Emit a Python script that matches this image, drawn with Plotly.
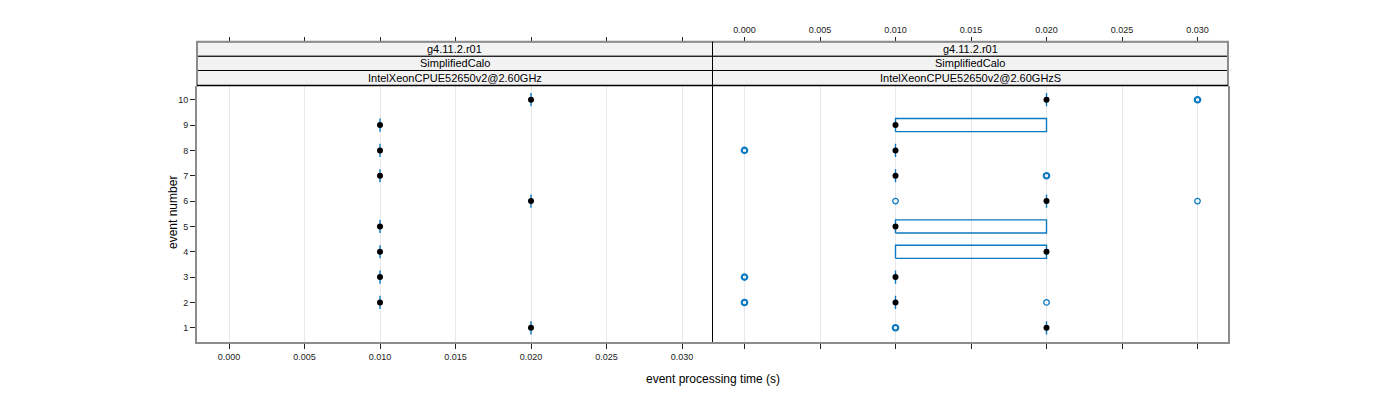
import plotly.graph_objects as go

# event numbers on the y axis
events = [1, 2, 3, 4, 5, 6, 7, 8, 9, 10]
x_ticks = [0.000, 0.005, 0.010, 0.015, 0.020, 0.025, 0.030]
x_tick_text = ["0.000", "0.005", "0.010", "0.015", "0.020", "0.025", "0.030"]

strip_labels_left = ["g4.11.2.r01", "SimplifiedCalo", "IntelXeonCPUE52650v2@2.60GHz"]
strip_labels_right = ["g4.11.2.r01", "SimplifiedCalo", "IntelXeonCPUE52650v2@2.60GHzS"]

# left panel: every event has the same time in all runs
left_q1 = [0.02, 0.01, 0.01, 0.01, 0.01, 0.02, 0.01, 0.01, 0.01, 0.02]
left_med = [0.02, 0.01, 0.01, 0.01, 0.01, 0.02, 0.01, 0.01, 0.01, 0.02]
left_q3 = [0.02, 0.01, 0.01, 0.01, 0.01, 0.02, 0.01, 0.01, 0.01, 0.02]

# right panel
right_q1 = [0.02, 0.01, 0.01, 0.01, 0.01, 0.02, 0.01, 0.01, 0.01, 0.02]
right_med = [0.02, 0.01, 0.01, 0.02, 0.01, 0.02, 0.01, 0.01, 0.01, 0.02]
right_q3 = [0.02, 0.01, 0.01, 0.02, 0.02, 0.02, 0.01, 0.01, 0.02, 0.02]
right_out_event = [1, 2, 2, 3, 6, 6, 7, 8, 10]
right_out_time = [0.01, 0.00, 0.02, 0.00, 0.01, 0.03, 0.02, 0.00, 0.03]
right_out_count = [2, 2, 1, 2, 1, 1, 2, 2, 2]  # overplotted runs

BLUE = "#0a78c2"
GREY = "#8c8c8c"
FONT = "Liberation Sans, Arial, sans-serif"
HALF = 0.26  # half box height in event units

W, H = 1400, 400
OFF = 8  # page body margin
px_x = lambda p: (p - OFF) / W
px_y = lambda p: 1 - (p - OFF) / H

LEFT, MID, RIGHT = 197, 712.5, 1228
TOP, BOTTOM = 85.5, 342
STRIP_TOP = 41.7
strip_rows = [41.7, 56.3, 70.5, 85.5]


def box_path(q1, q3):
    xs, ys = [], []
    for e, a, b in zip(events, q1, q3):
        xs += [a, b, b, a, a, None]
        ys += [e - HALF, e - HALF, e + HALF, e + HALF, e - HALF, None]
    return xs, ys


fig = go.Figure()

for xa, q1, med, q3 in [("x", left_q1, left_med, left_q3), ("x2", right_q1, right_med, right_q3)]:
    ya = "y" if xa == "x" else "y2"
    bx, by = box_path(q1, q3)
    fig.add_trace(go.Scatter(x=bx, y=by, mode="lines", xaxis=xa, yaxis=ya,
                             line=dict(color=BLUE, width=1.4), hoverinfo="skip"))
    fig.add_trace(go.Scatter(x=med, y=events, mode="markers", xaxis=xa, yaxis=ya,
                             marker=dict(color="black", size=6)))

fig.add_trace(go.Scatter(x=right_out_time, y=right_out_event, mode="markers",
                         xaxis="x2", yaxis="y2",
                         marker=dict(symbol="circle-open", color=BLUE, size=5.5,
                                     line=dict(width=[0.5 + 0.8 * c for c in right_out_count],
                                               color=BLUE))))

# dummy traces so the top axes render
fig.add_trace(go.Scatter(x=[None], y=[None], xaxis="x3", yaxis="y", showlegend=False))
fig.add_trace(go.Scatter(x=[None], y=[None], xaxis="x4", yaxis="y2", showlegend=False))

xr = [(LEFT - 229) / 15100, (MID - 229) / 15100]
yr = [0.44, 10.56]
dom_l = [px_x(LEFT), px_x(MID)]
dom_r = [px_x(MID), px_x(RIGHT)]
dom_y = [px_y(BOTTOM), px_y(TOP)]

common_x = dict(range=xr, tickvals=x_ticks, ticktext=x_tick_text, showgrid=True,
                gridcolor="#e8e8e8", gridwidth=1, zeroline=False, ticks="outside",
                ticklen=5, tickcolor="#222", tickfont=dict(size=9, color="#222", family=FONT),
                fixedrange=True)

fig.update_layout(
    width=W, height=H, margin=dict(l=0, r=0, t=0, b=0),
    plot_bgcolor="white", paper_bgcolor="white", showlegend=False,
    font=dict(family=FONT, color="#222"),
    xaxis=dict(domain=dom_l, anchor="y", showline=True, linecolor=GREY, linewidth=2,
               mirror=False, **common_x),
    xaxis2=dict(domain=dom_r, anchor="y2", showline=True, linecolor=GREY, linewidth=2,
                mirror=False, showticklabels=False, **common_x),
    xaxis3=dict(domain=dom_l, overlaying="x", anchor="free", position=px_y(STRIP_TOP),
                side="top", showline=False, showticklabels=False,
                **{**common_x, "showgrid": False}),
    xaxis4=dict(domain=dom_r, overlaying="x2", anchor="free", position=px_y(STRIP_TOP),
                side="top", showline=False, showticklabels=True,
                **{**common_x, "showgrid": False}),
    yaxis=dict(domain=dom_y, anchor="x", range=yr, tickvals=events, ticks="outside",
               ticklen=5, tickcolor="#222", showgrid=False, zeroline=False,
               showline=True, linecolor=GREY, linewidth=2, mirror=False,
               tickfont=dict(size=9, color="#222", family=FONT), fixedrange=True),
    yaxis2=dict(domain=dom_y, anchor="x2", range=yr, showticklabels=False, ticks="",
                side="right", showgrid=False, zeroline=False, showline=True,
                linecolor=GREY, linewidth=2, mirror=False, fixedrange=True),
)

shapes = []
annotations = []
for (x0, x1), labels in [((LEFT, MID), strip_labels_left), ((MID, RIGHT), strip_labels_right)]:
    for i, lab in enumerate(labels):
        y0, y1 = strip_rows[i], strip_rows[i + 1]
        shapes.append(dict(type="rect", xref="paper", yref="paper",
                           x0=px_x(x0), x1=px_x(x1), y0=px_y(y1), y1=px_y(y0),
                           fillcolor="#f2f2f2", line=dict(color="black", width=1),
                           layer="above"))
        annotations.append(dict(text=lab, xref="paper", yref="paper",
                                x=px_x((x0 + x1) / 2), y=px_y((y0 + y1) / 2),
                                showarrow=False, xanchor="center", yanchor="middle",
                                font=dict(size=11, color="black", family=FONT)))

# grey outer frame around strips (left, top, right)
shapes.append(dict(type="path", xref="paper", yref="paper",
                   path=(f"M {px_x(LEFT)} {px_y(TOP)} L {px_x(LEFT)} {px_y(STRIP_TOP)} "
                         f"L {px_x(RIGHT)} {px_y(STRIP_TOP)} L {px_x(RIGHT)} {px_y(TOP)}"),
                   line=dict(color=GREY, width=2), layer="above"))
# divider between panels
shapes.append(dict(type="line", xref="paper", yref="paper",
                   x0=px_x(MID), x1=px_x(MID), y0=px_y(BOTTOM), y1=px_y(STRIP_TOP),
                   line=dict(color="black", width=1), layer="above"))
# black line under strips
shapes.append(dict(type="line", xref="paper", yref="paper",
                   x0=px_x(LEFT), x1=px_x(RIGHT), y0=px_y(TOP), y1=px_y(TOP),
                   line=dict(color="black", width=1.3), layer="above"))

annotations.append(dict(text="event processing time (s)", xref="paper", yref="paper",
                        x=px_x(MID), y=px_y(379), showarrow=False,
                        xanchor="center", yanchor="middle",
                        font=dict(size=12, color="black", family=FONT)))
annotations.append(dict(text="event number", xref="paper", yref="paper",
                        x=px_x(173), y=px_y(213), showarrow=False, textangle=-90,
                        xanchor="center", yanchor="middle",
                        font=dict(size=12, color="black", family=FONT)))

fig.update_layout(shapes=shapes, annotations=annotations)
fig.write_html("out.html")
